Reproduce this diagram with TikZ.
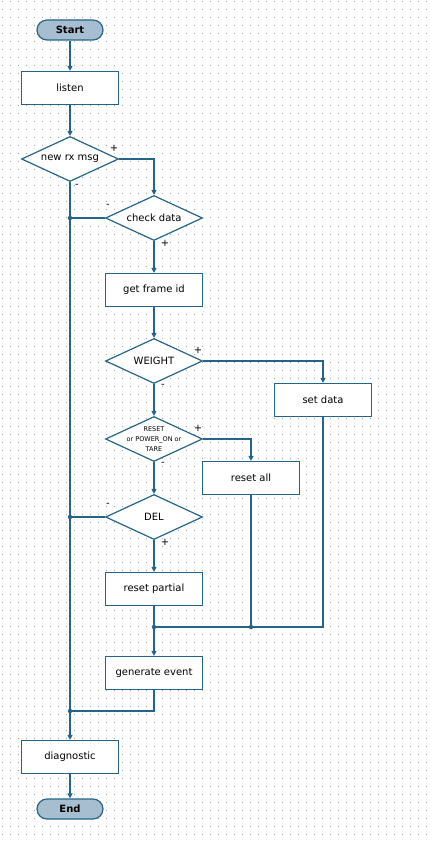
\documentclass[tikz,border=0pt]{standalone}
\usepackage{fontspec}
\setmainfont{DejaVu Sans}
\usetikzlibrary{arrows.meta,shapes.geometric}
\definecolor{flowline}{RGB}{36,100,138}
\definecolor{termfill}{RGB}{166,190,208}
\definecolor{griddot}{RGB}{165,165,165}

\begin{document}
\begin{tikzpicture}[
  x=1pt, y=-1pt,
  line/.style={draw=flowline, line width=1.2pt},
  arr/.style={line, -{Triangle[length=5pt,width=5pt]}},
  proc/.style={draw=flowline, line width=1.2pt, fill=white, minimum width=97pt,
               minimum height=33pt, inner sep=0pt, font=\fontsize{10}{12}\selectfont},
  term/.style={draw=flowline, line width=1.2pt, fill=termfill, rounded corners=10pt,
               minimum width=66pt, minimum height=20pt, inner sep=0pt,
               font=\bfseries\fontsize{10}{12}\selectfont},
  decide/.style={diamond, draw=flowline, line width=1.2pt, fill=white, aspect=2.2,
                 minimum width=97pt, minimum height=45pt, inner sep=0pt,
                 font=\fontsize{10}{12}\selectfont},
  sign/.style={inner sep=0pt, font=\fontsize{10}{10}\selectfont},
  jdot/.style={circle, fill=flowline, inner sep=0pt, minimum size=4.5pt},
]
\useasboundingbox (0,0) rectangle (432,842);
% dotted grid
\foreach \gy in {2,10,...,842}
  \draw[griddot, line width=1pt, dash pattern=on 1pt off 7pt] (2,\gy) -- (432,\gy);

% nodes
\node[term] (start) at (70,30) {Start};
\node[proc] (listen) at (70,88) {listen};
\node[decide] (newrx) at (70,159) {new rx msg};
\node[decide] (check) at (154,218) {check data};
\node[proc] (frame) at (154,290) {get frame id};
\node[decide] (weight) at (154,361) {WEIGHT};
\node[proc] (setdata) at (323,400) {set data};
\node[decide] (reset) at (154,439) {};
\node[align=center, inner sep=0pt, font=\fontsize{6.5}{10}\selectfont] (resettxt)
  at (reset.center) {RESET\\or POWER\_ON or\\TARE};
\node[proc] (resetall) at (251,478) {reset all};
\node[decide] (del) at (154,517) {DEL};
\node[proc] (partial) at (154,589) {reset partial};
\node[proc] (gen) at (154,673) {generate event};
\node[proc] (diag) at (70,757) {diagnostic};
\node[term] (endnode) at (70,809) {End};

% junctions
\node[jdot] (jcheck) at (70,218) {};
\node[jdot] (jdel) at (70,517) {};
\node[jdot] (jgen) at (70,711) {};
\node[jdot] (jmerge) at (154,627) {};
\node[jdot] (jall) at (251,627) {};

% connectors
\draw[arr] (start) -- (listen);
\draw[arr] (listen) -- (newrx);
\draw[arr] (newrx.east) -| (check.north);
\draw[arr] (newrx.south) -- (diag.north);
\draw[line] (check.west) -- (jcheck.center);
\draw[arr] (check) -- (frame);
\draw[arr] (frame) -- (weight);
\draw[arr] (weight.east) -| (setdata.north);
\draw[arr] (weight) -- (reset);
\draw[arr] (reset.east) -| (resetall.north);
\draw[arr] (reset) -- (del);
\draw[line] (del.west) -- (jdel.center);
\draw[arr] (del) -- (partial);
\draw[line] (partial) -- (jmerge.center);
\draw[arr] (jmerge.center) -- (gen);
\draw[line] (resetall.south) -- (jall.center);
\draw[line] (setdata.south) |- (jmerge.center);
\draw[line] (gen.south) |- (jgen.center);
\draw[arr] (diag) -- (endnode);

% branch signs
\node[sign] (p1) at (114,148) {+};
\node[sign] (m1) at (77,186) {-};
\node[sign] (m2) at (108,206) {-};
\node[sign] (p2) at (165,243) {+};
\node[sign] (p3) at (198,350) {+};
\node[sign] (m3) at (163,386) {-};
\node[sign] (p4) at (198,428) {+};
\node[sign] (m4) at (163,464) {-};
\node[sign] (m5) at (108,505) {-};
\node[sign] (p5) at (165,542) {+};
\end{tikzpicture}
\end{document}
